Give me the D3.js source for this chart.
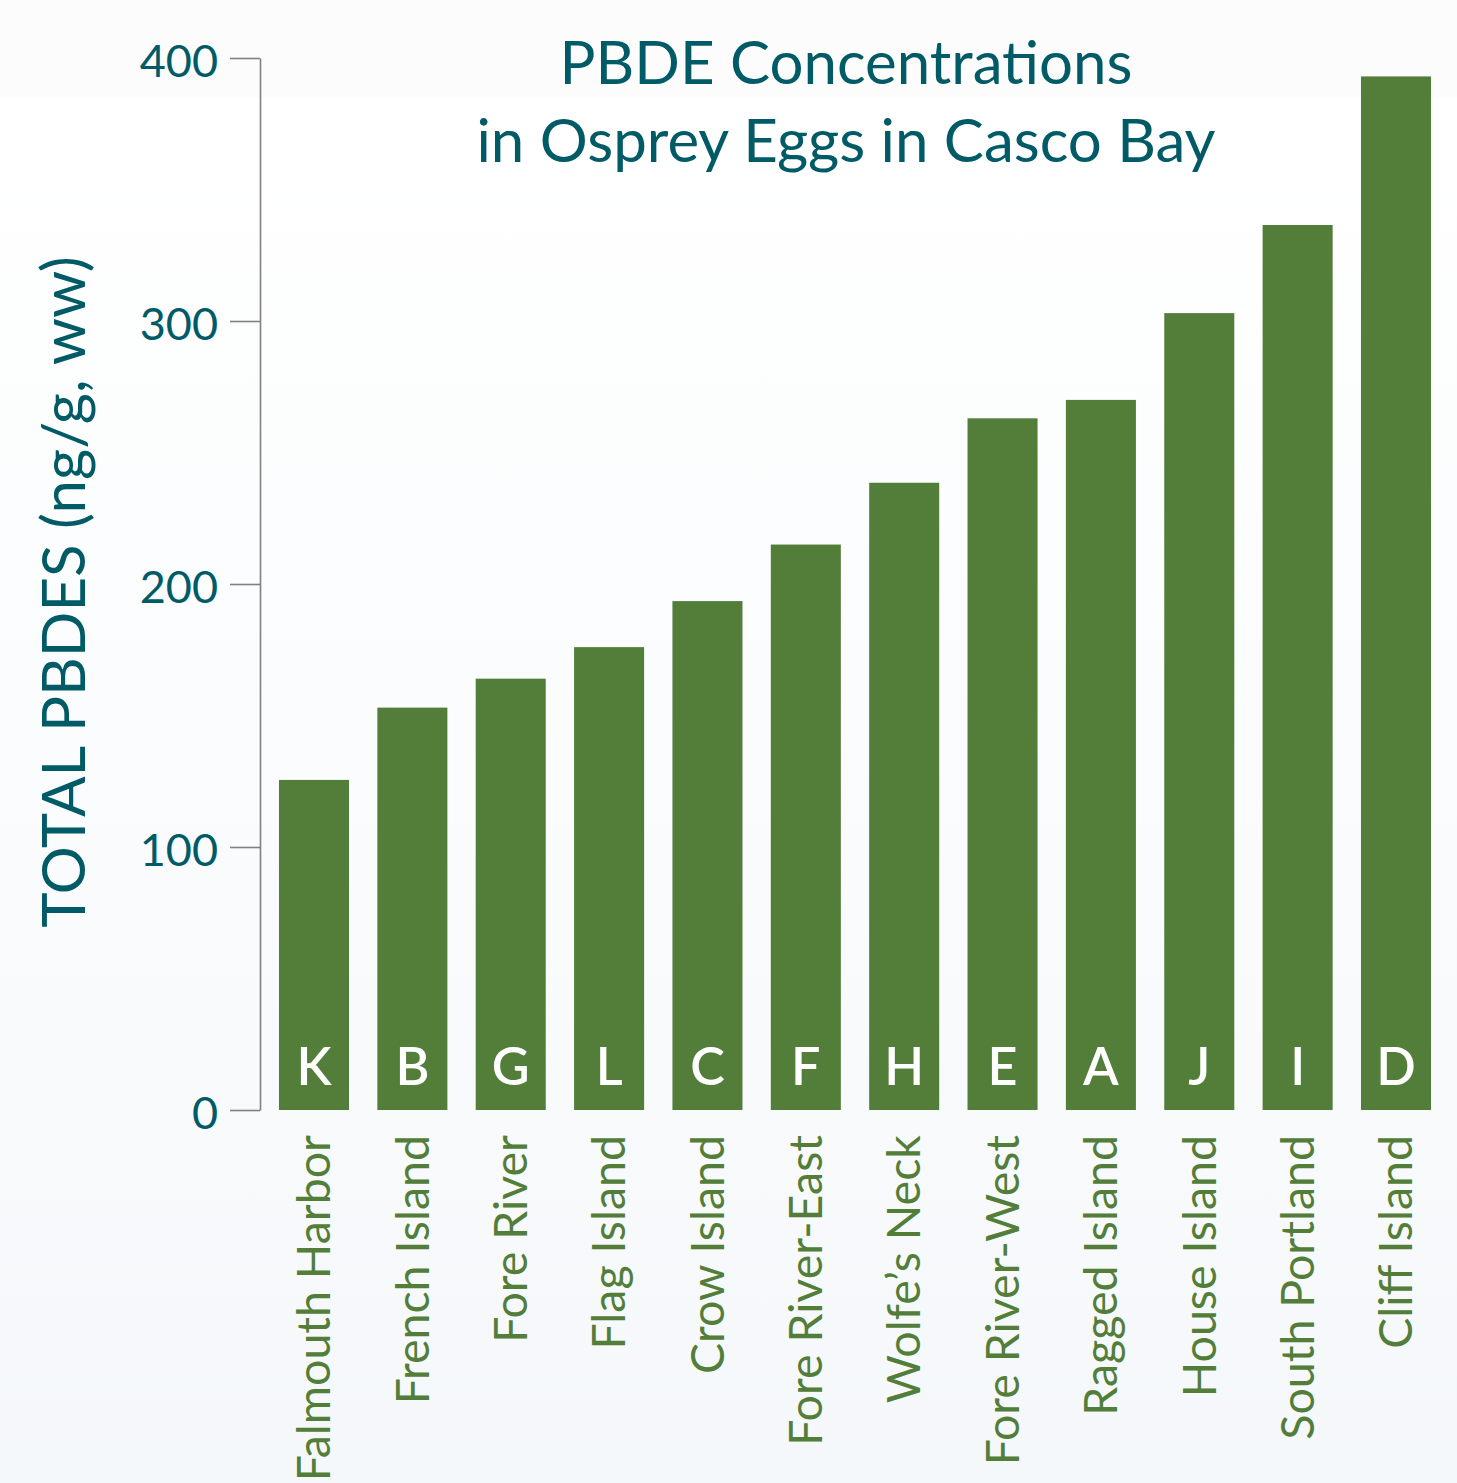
<!DOCTYPE html>
<html>
<head>
<meta charset="utf-8">
<script src="https://cdn.jsdelivr.net/npm/d3@7"></script>
<style>
  html, body { margin: 0; padding: 0; background: #fff; }
  svg { display: block; }
</style>
</head>
<body>
<div id="chart"></div>
<script>
// data
var sites = ['Falmouth Harbor', 'French Island', 'Fore River', 'Flag Island', 'Crow Island',
  'Fore River-East', "Wolfe\u2019s Neck", 'Fore River-West', 'Ragged Island', 'House Island',
  'South Portland', 'Cliff Island'];
var codes = ['K', 'B', 'G', 'L', 'C', 'F', 'H', 'E', 'A', 'J', 'I', 'D'];
var pbde = [125.5, 153, 164, 176, 193.5, 215, 238.5, 263, 270, 303, 336.5, 393];
var yTicks = [0, 100, 200, 300, 400];

var W = 1457, H = 1483;
var teal = '#005b66';
var green = '#537e3a';
var font = 'Lato, "Open Sans", sans-serif';

var svg = d3.select('#chart').append('svg')
  .attr('width', W)
  .attr('height', H);

// background gradient
var defs = svg.append('defs');
var grad = defs.append('linearGradient')
  .attr('id', 'bg')
  .attr('x1', 0).attr('y1', 0).attr('x2', 0).attr('y2', 1);
grad.append('stop').attr('offset', '0').attr('stop-color', '#fcfcfc');
grad.append('stop').attr('offset', '0.065').attr('stop-color', '#fcfcfc');
grad.append('stop').attr('offset', '0.066').attr('stop-color', '#ffffff');
grad.append('stop').attr('offset', '1').attr('stop-color', '#f5f8fa');
svg.append('rect').attr('width', W).attr('height', H).attr('fill', 'url(#bg)');

// scales
var x = d3.scaleBand()
  .domain(sites)
  .range([279 - 14.18, 1431 + 14.18])
  .paddingInner(0.288)
  .paddingOuter(0.144);

var y = d3.scaleLinear()
  .domain([0, 400])
  .range([1110, 58]);

// y axis
var yAxis = d3.axisLeft(y)
  .tickValues(yTicks)
  .tickSize(30)
  .tickPadding(12)
  .tickSizeOuter(0);

var ga = svg.append('g')
  .attr('transform', 'translate(260,0)')
  .call(yAxis);
ga.select('.domain').attr('stroke', '#808080').attr('stroke-width', 1.6);
ga.selectAll('.tick line').attr('stroke', '#808080').attr('stroke-width', 1.6);
ga.selectAll('.tick text')
  .attr('fill', teal)
  .attr('dy', '0.4em')
  .style('font-family', font)
  .style('font-size', '45px');

// bars
svg.append('g').selectAll('rect')
  .data(pbde)
  .enter().append('rect')
  .attr('x', function(d, i){ return x(sites[i]); })
  .attr('y', function(d){ return y(d); })
  .attr('width', x.bandwidth())
  .attr('height', function(d){ return y(0) - y(d); })
  .attr('fill', green);

// bar letters
svg.append('g').selectAll('text')
  .data(codes)
  .enter().append('text')
  .attr('x', function(d, i){ return x(sites[i]) + x.bandwidth() / 2; })
  .attr('y', 1085)
  .attr('text-anchor', 'middle')
  .attr('fill', '#fff')
  .style('font-family', font)
  .style('font-weight', 600)
  .style('font-size', '52px')
  .text(function(d){ return d; });

// site labels (rotated)
svg.append('g').selectAll('text')
  .data(sites)
  .enter().append('text')
  .attr('transform', function(d){
    return 'translate(' + (x(d) + x.bandwidth() / 2) + ',1135) rotate(-90)';
  })
  .attr('text-anchor', 'end')
  .attr('dy', '0.35em')
  .attr('fill', green)
  .style('font-family', font)
  .style('font-size', '46.5px')
  .text(function(d){ return d; });

// y axis title
svg.append('text')
  .attr('transform', 'translate(64,592) rotate(-90)')
  .attr('text-anchor', 'middle')
  .attr('dy', '0.35em')
  .attr('fill', teal)
  .style('font-family', font)
  .style('font-size', '60px')
  .text('TOTAL PBDES (ng/g, ww)');

// title
var title = svg.append('text')
  .attr('text-anchor', 'middle')
  .attr('fill', teal)
  .style('font-family', font)
  .style('font-size', '60px');
title.append('tspan').attr('x', 846).attr('y', 84).text('PBDE Concentrations');
title.append('tspan').attr('x', 846).attr('y', 162).text('in Osprey Eggs in Casco Bay');
</script>
</body>
</html>
